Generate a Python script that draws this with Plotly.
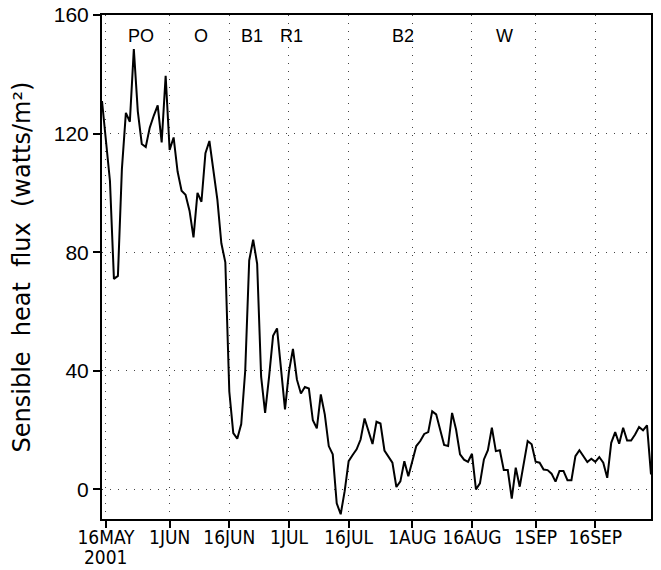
import pandas as pd
import plotly.graph_objects as go

start_date = "2001-05-15"
flux = [131, 118, 104, 71, 72, 108, 127, 124, 148.5, 127.5,
        116.5, 115.5, 122, 126, 129.5, 117, 139.5, 114.5, 118.7, 107.2,
        100.7, 99.4, 94, 85, 100, 97, 113.4, 117.5, 107.8, 97.7,
        83, 76.6, 33, 19, 17.1, 22, 40, 77.2, 84.2, 76.1,
        38, 25.8, 38, 51.8, 54.3, 40, 27, 39.8, 47.4, 37,
        32.3, 34.5, 34, 23.3, 20.6, 32, 25.3, 14.6, 11.8, -4.7,
        -8.4, -0.6, 9.5, 11.6, 13.5, 16.8, 23.9, 19.6, 15.3, 22.8,
        22.2, 13.1, 11, 9, 0.8, 2.7, 9.5, 4.4, 9.5, 14.6,
        16.3, 18.7, 19.3, 26.3, 25.3, 20.3, 15, 14.6, 25.8, 20.2,
        11.8, 10, 9.3, 12, 0, 2, 10.1, 13.2, 20.8, 12.9,
        13.2, 6.5, 6.5, -3.1, 7.3, 0.9, 8.4, 16.3, 15.2, 9.3,
        9, 6.7, 6.5, 5.3, 2.6, 6.2, 6.2, 3.1, 3.1, 11.2,
        13.2, 11.2, 9.2, 10.3, 9.3, 10.9, 9.0, 3.9, 15.7, 19.3,
        15.4, 20.8, 16.5, 16.5, 18.5, 21, 19.9, 21.6, 5]

tick_dates = ["2001-05-16", "2001-06-01", "2001-06-16", "2001-07-01", "2001-07-16",
              "2001-08-01", "2001-08-16", "2001-09-01", "2001-09-16"]
tick_labels = ["16MAY", "1JUN", "16JUN", "1JUL", "16JUL",
               "1AUG", "16AUG", "1SEP", "16SEP"]
year_label = "2001"
y_ticks = [0, 40, 80, 120, 160]

phase_labels = ["PO", "O", "B1", "R1", "B2", "W"]
phase_dates = ["2001-05-24 18:00", "2001-06-09", "2001-06-21 18:00",
               "2001-07-01 18:00", "2001-07-29 18:00", "2001-08-24 06:00"]
phase_y = 153

dates = pd.date_range(start_date, periods=len(flux), freq="D")

tick_font = dict(family="DejaVu Sans Condensed, Liberation Sans Narrow, Liberation Sans",
                 size=19, color="black")

fig = go.Figure()
fig.add_trace(go.Scatter(x=dates, y=flux, mode="lines",
                         line=dict(color="black", width=2), showlegend=False))

for lab, d in zip(phase_labels, phase_dates):
    fig.add_annotation(x=d, y=phase_y, text=lab, showarrow=False,
                       font=dict(family="Liberation Sans", size=18, color="black"))

fig.add_annotation(x=tick_dates[0], y=0, yref="paper", yanchor="bottom", yshift=-50,
                   text=year_label, showarrow=False, borderpad=0, font=tick_font)

grid = dict(showgrid=True, gridcolor="#444", gridwidth=1, griddash="1px,7px")

fig.update_xaxes(type="date", range=["2001-05-15", "2001-09-30"],
                 tickvals=tick_dates, ticktext=tick_labels, tickangle=0,
                 ticks="outside", ticklen=7, tickwidth=2, tickcolor="black",
                 ticklabelstandoff=-7,
                 showline=True, linewidth=2, linecolor="black", mirror=True,
                 zeroline=False, automargin=False,
                 tickfont=tick_font,
                 **grid)
fig.update_yaxes(range=[-10, 160], tickvals=y_ticks,
                 ticks="outside", ticklen=7, tickwidth=2, tickcolor="black",
                 showline=True, linewidth=2, linecolor="black", mirror=True,
                 zeroline=False, automargin=False,
                 tickfont=dict(family="Liberation Sans", size=21, color="black"),
                 title=dict(text="Sensible\u00a0 heat\u00a0 flux\u00a0 (watts/m\u00b2)",
                            font=dict(family="DejaVu Sans", size=24, color="black"),
                            standoff=16),
                 **grid)

fig.update_layout(width=661, height=570, margin=dict(l=102, r=10, t=15, b=51),
                  plot_bgcolor="white", paper_bgcolor="white")

fig.write_html("out.html", config={"displayModeBar": False},
               post_script="document.body.style.margin='0';")
